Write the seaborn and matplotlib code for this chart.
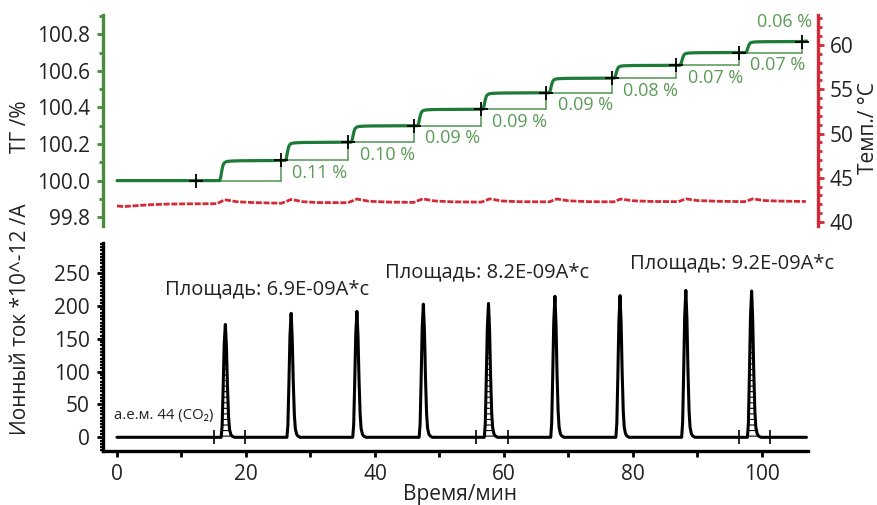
import numpy as np
import pandas as pd
import matplotlib
matplotlib.use("Agg")
import matplotlib.pyplot as plt
from matplotlib.ticker import MultipleLocator, FormatStrFormatter
import seaborn as sns

# ---------------- data ----------------
tg_marker_times = [12.2, 25.4, 35.8, 46.0, 56.4, 66.5, 76.7, 86.7, 96.4, 106.2]
tg_levels = [100.00, 100.11, 100.21, 100.30, 100.39, 100.48, 100.56, 100.63, 100.70, 100.76]
tg_step_labels = ["0.11 %", "0.10 %", "0.09 %", "0.09 %", "0.09 %",
                  "0.08 %", "0.07 %", "0.07 %", "0.06 %"]
# shape of one mass step (minutes after onset, fraction of the step)
step_rise_dt = [0.0, 0.15, 0.3, 0.45, 0.6, 0.8, 1.0, 1.3, 1.7, 2.3, 3.2]
step_rise_frac = [0.0, 0.12, 0.4, 0.66, 0.82, 0.9, 0.935, 0.955, 0.968, 0.978, 0.986]
step_onset_before_peak = 0.9

peak_times = [16.8, 27.0, 37.2, 47.5, 57.6, 67.9, 78.0, 88.2, 98.4]
peak_heights = [172, 189, 192, 203, 204, 215, 216, 224, 223]
# shape of one CO2 peak (minutes from apex, fraction of height)
peak_dt = [-0.65, -0.5, -0.35, -0.18, 0.0, 0.17, 0.33, 0.5, 0.65, 0.85, 1.05, 1.4]
peak_frac = [0.0, 0.1, 0.42, 0.82, 1.0, 0.8, 0.45, 0.18, 0.07, 0.025, 0.01, 0.0]
ion_end_time = 106.9
tg_end_time = 106.9

integration_limits = [(15.0, 19.8), (55.7, 60.6), (96.5, 101.3)]
area_labels = ["Площадь: 6.9E-09A*с", "Площадь: 8.2E-09A*с", "Площадь: 9.2E-09A*с"]

temp_times = [0, 1, 2.5, 5, 8, 12, 15.5, 16.7, 18.5, 21, 25.5, 27.0, 28.8, 31,
              35.8, 37.2, 39, 42, 46, 47.4, 49.2, 52, 56.5, 57.8, 59.6, 62,
              67, 68.2, 70, 73, 77, 78.1, 80, 83, 87, 88.2, 90, 93,
              97.3, 98.6, 100.4, 103, 106.8]
temp_values = [41.82, 41.74, 41.82, 41.95, 42.03, 42.06, 42.07, 42.52, 42.3, 42.2,
               42.12, 42.55, 42.3, 42.2, 42.18, 42.6, 42.35, 42.25, 42.22, 42.62,
               42.38, 42.28, 42.25, 42.62, 42.38, 42.3, 42.28, 42.6, 42.4, 42.3,
               42.28, 42.6, 42.4, 42.32, 42.3, 42.62, 42.42, 42.35, 42.3, 42.62,
               42.42, 42.36, 42.32]

# ---------------- build curves from the data ----------------
tg_t, tg_v = [0.0], [tg_levels[0]]
for i in range(len(tg_step_labels)):
    onset = peak_times[i] - step_onset_before_peak
    L0, L1 = tg_levels[i], tg_levels[i + 1]
    for dt, f in zip(step_rise_dt, step_rise_frac):
        tg_t.append(onset + dt)
        tg_v.append(L0 + f * (L1 - L0))
    tg_t.append(tg_marker_times[i + 1])
    tg_v.append(L1)
tg_t.append(tg_end_time)
tg_v.append(tg_levels[-1] + 0.003)
tg_df = pd.DataFrame({"t": tg_t, "tg": tg_v})

ion_t, ion_v = [0.0], [0.0]
for pt, h in zip(peak_times, peak_heights):
    for dt, f in zip(peak_dt, peak_frac):
        ion_t.append(pt + dt)
        ion_v.append(f * h)
ion_t.append(ion_end_time)
ion_v.append(0.0)
ion_df = pd.DataFrame({"t": ion_t, "ion": ion_v})

temp_df = pd.DataFrame({"t": temp_times, "temp": temp_values})

# ---------------- style ----------------
sns.set_style("ticks")
plt.rcParams["font.family"] = ["Open Sans", "DejaVu Sans"]
plt.rcParams["hatch.linewidth"] = 0.8

GREEN_CURVE = "#1d7a37"
GREEN_SPINE = "#4a8b3c"
GREEN_REF = "#4f9350"
GREEN_TEXT = "#5b9b55"
RED = "#d22a36"
TXT = "#222222"

W, H = 878, 505
fig = plt.figure(figsize=(W / 100, H / 100), dpi=100)


def box(l, t, r, b):
    return [l / W, 1 - b / H, (r - l) / W, (b - t) / H]


ax_top = fig.add_axes(box(103, 15, 818, 226))
ax_bot = fig.add_axes(box(103, 243, 808, 451))
ax_tmp = ax_top.twinx()

# ---------------- top: TG + temperature ----------------
ax_top.set_xlim(-2.17, 108.68)
ax_top.set_ylim(99.752, 100.905)
for i in range(1, len(tg_levels)):
    ax_top.plot([tg_marker_times[i - 1], tg_marker_times[i]],
                [tg_levels[i - 1], tg_levels[i - 1]], color=GREEN_REF, lw=1.1, zorder=2)
    ax_top.plot([tg_marker_times[i], tg_marker_times[i]],
                [tg_levels[i - 1], tg_levels[i]], color=GREEN_REF, lw=1.1, zorder=2)

sns.lineplot(data=tg_df, x="t", y="tg", ax=ax_top, color=GREEN_CURVE, lw=2.3,
             estimator=None, sort=False, zorder=3)
ax_top.plot(tg_marker_times, tg_levels, linestyle="none", marker="+", ms=10,
            mew=1.3, color="black", zorder=4)

for i, lab in enumerate(tg_step_labels[:-1]):
    ax_top.text(tg_marker_times[i + 1] + 1.8, tg_levels[i + 1] - 0.02, lab,
                ha="left", va="top", fontsize=13, color=GREEN_TEXT)
ax_top.text(107.75, 100.865, tg_step_labels[-1], ha="right", va="center",
            fontsize=13, color=GREEN_TEXT)

for s in ["top", "right", "bottom"]:
    ax_top.spines[s].set_visible(False)
ax_top.spines["left"].set_color(GREEN_SPINE)
ax_top.spines["left"].set_linewidth(2.4)
ax_top.tick_params(axis="x", bottom=False, labelbottom=False)
ax_top.yaxis.set_major_locator(MultipleLocator(0.2))
ax_top.yaxis.set_minor_locator(MultipleLocator(0.1))
ax_top.yaxis.set_major_formatter(FormatStrFormatter("%.1f"))
ax_top.tick_params(axis="y", which="major", colors=GREEN_SPINE, labelcolor=TXT,
                   labelsize=15, length=4.5, width=2, pad=5)
ax_top.tick_params(axis="y", which="minor", colors=GREEN_SPINE, length=3, width=2)
ax_top.set_xlabel("")
ax_top.set_ylabel("")

sns.lineplot(data=temp_df, x="t", y="temp", ax=ax_tmp, color=RED, lw=2.0,
             linestyle=(0, (2.2, 0.6)), estimator=None)
ax_tmp.set_ylim(39.55, 63.39)
for s in ["top", "left", "bottom"]:
    ax_tmp.spines[s].set_visible(False)
ax_tmp.spines["right"].set_color(RED)
ax_tmp.spines["right"].set_linewidth(2.4)
ax_tmp.yaxis.set_major_locator(MultipleLocator(5))
ax_tmp.yaxis.set_minor_locator(MultipleLocator(1))
ax_tmp.tick_params(axis="y", which="major", colors=RED, labelcolor=TXT,
                   labelsize=15, length=4.5, width=2, pad=4)
ax_tmp.tick_params(axis="y", which="minor", colors=RED, length=3, width=2)
ax_tmp.set_ylabel("")
ax_tmp.set_xlabel("")

# ---------------- bottom: ion current ----------------
ax_bot.set_xlim(-2.17, 107.14)
ax_bot.set_ylim(-20.9, 296.2)
sns.lineplot(data=ion_df, x="t", y="ion", ax=ax_bot, color="black", lw=2.2,
             estimator=None, sort=False, zorder=3)
t_arr = ion_df["t"].to_numpy()
v_arr = ion_df["ion"].to_numpy()
for a, b in integration_limits:
    m = (t_arr >= a) & (t_arr <= b)
    ax_bot.fill_between(t_arr[m], 0, v_arr[m], facecolor="none", edgecolor="black",
                        hatch="---", linewidth=0, zorder=2)
lim_x = [x for pair in integration_limits for x in pair]
ax_bot.plot(lim_x, [0] * len(lim_x), linestyle="none", marker="+", ms=10, mew=1.2,
            color="black", zorder=4)

ax_bot.text(23.3, 225.6, area_labels[0], ha="center", va="center", fontsize=14.5, color=TXT)
ax_bot.text(57.4, 251.5, area_labels[1], ha="center", va="center", fontsize=14.5, color=TXT)
ax_bot.text(95.4, 265.0, area_labels[2], ha="center", va="center", fontsize=14.5, color=TXT)
ax_bot.text(-0.4, 33.5, "а.е.м. 44 (CO₂)", ha="left", va="center", fontsize=10.7,
            color=TXT)

for s in ["top", "right"]:
    ax_bot.spines[s].set_visible(False)
for s in ["left", "bottom"]:
    ax_bot.spines[s].set_color("black")
    ax_bot.spines[s].set_linewidth(2.4)
ax_bot.xaxis.set_major_locator(MultipleLocator(20))
ax_bot.xaxis.set_minor_locator(MultipleLocator(10))
ax_bot.yaxis.set_major_locator(MultipleLocator(50))
ax_bot.yaxis.set_minor_locator(MultipleLocator(5))
ax_bot.set_yticks([0, 50, 100, 150, 200, 250])
ax_bot.tick_params(axis="both", which="major", colors="black", labelcolor=TXT,
                   labelsize=15, length=4.5, width=2, pad=5)
ax_bot.tick_params(axis="x", which="minor", length=4.5, width=2, colors="black")
ax_bot.tick_params(axis="y", which="minor", length=2.5, width=1.6, colors="black")
ax_bot.set_xlabel("")
ax_bot.set_ylabel("")

# ---------------- axis titles ----------------
fig.text(21 / W, 1 - 127 / H, "ТГ /%", rotation=90, ha="center", va="center",
         fontsize=15, color=TXT)
fig.text(21 / W, 1 - 319 / H, "Ионный ток *10^-12 /A", rotation=90, ha="center",
         va="center", fontsize=15, color=TXT)
fig.text(869 / W, 1 - 128 / H, "Темп./ °C", rotation=90, ha="center", va="center",
         fontsize=15, color=TXT)
fig.text(460 / W, 1 - 500 / H, "Время/мин", ha="center", va="baseline",
         fontsize=15, color=TXT)

fig.savefig("out.png", dpi=100)
